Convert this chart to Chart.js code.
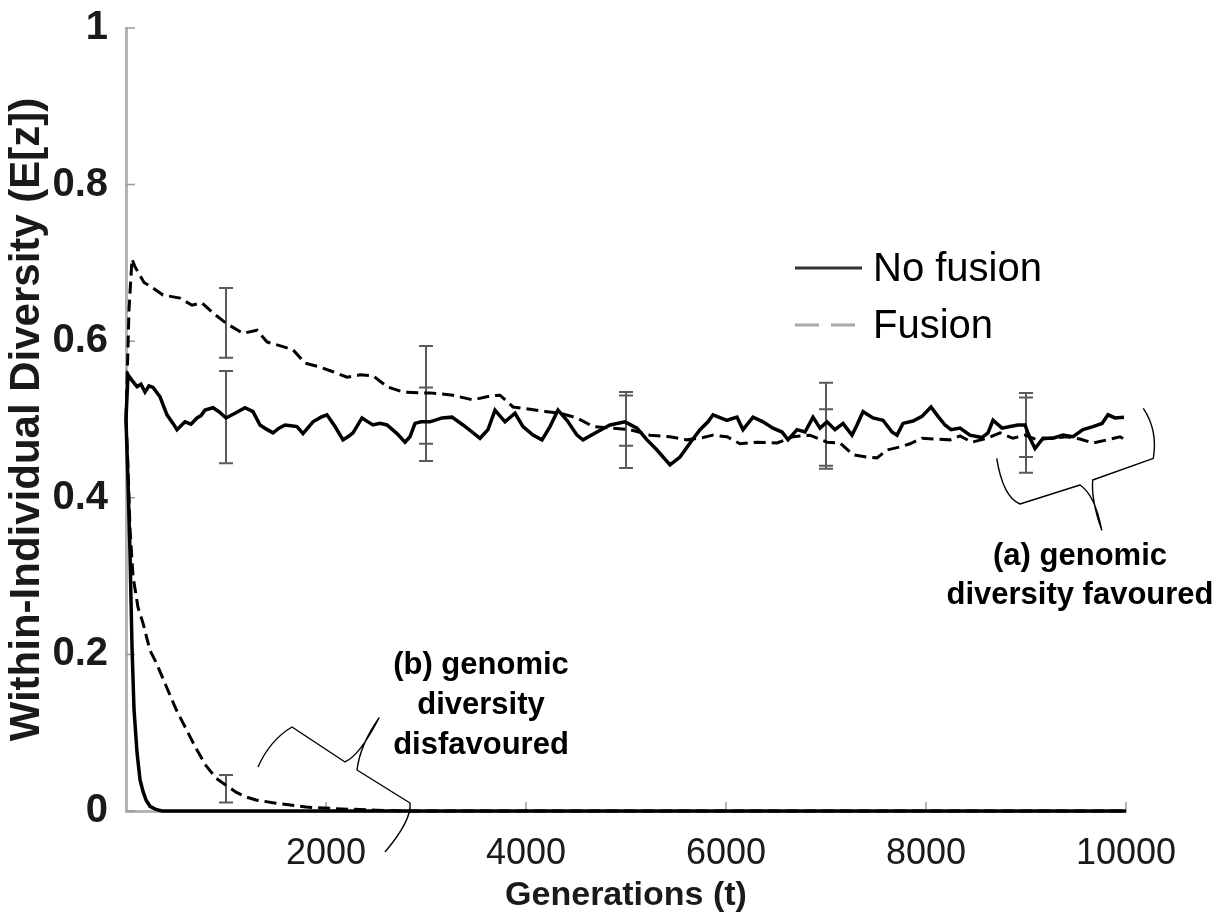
<!DOCTYPE html>
<html>
<head>
<meta charset="utf-8">
<script src="https://cdn.jsdelivr.net/npm/chart.js@4/dist/chart.umd.min.js"></script>
<style>
  html, body { margin: 0; padding: 0; background: #ffffff; }
  #wrap { width: 1224px; height: 920px; }
</style>
</head>
<body>
<div id="wrap"><canvas id="c" width="1224" height="920"></canvas></div>
<script>
// ---- Data: within-individual diversity E[z] over generations t ----

// (a) genomic diversity favoured, no fusion
const noFusionA_t = [0, 10, 20, 60, 110, 150, 190, 230, 270, 340, 410, 470, 510, 550, 590, 650, 710, 750, 790, 870, 930,
  1000, 1090, 1190, 1270, 1340, 1400, 1470, 1530, 1590, 1650, 1710, 1770, 1870, 1950, 2010, 2090, 2170, 2220, 2270, 2360,
  2420, 2470, 2540, 2610, 2710, 2790, 2840, 2890, 2950, 3040, 3160, 3260, 3370, 3450, 3540, 3620, 3690, 3790, 3890, 3970,
  4070, 4160, 4240, 4320, 4410, 4510, 4570, 4710, 4840, 4990, 5110, 5210, 5310, 5440, 5540, 5640, 5740, 5820, 5870, 6010,
  6110, 6170, 6270, 6370, 6470, 6560, 6620, 6710, 6790, 6870, 6940, 7010, 7090, 7170, 7260, 7310, 7370, 7470, 7570, 7660,
  7710, 7770, 7870, 7960, 8050, 8120, 8190, 8250, 8340, 8440, 8560, 8620, 8670, 8760, 8840, 8920, 8990, 9040, 9090, 9170,
  9270, 9370, 9470, 9570, 9670, 9760, 9820, 9890, 9980];
const noFusionA_v = [0.50, 0.53, 0.557, 0.55, 0.542, 0.545, 0.535, 0.543, 0.541, 0.529, 0.506, 0.495, 0.487, 0.492, 0.497, 0.494, 0.502, 0.505, 0.512, 0.515, 0.510,
  0.502, 0.508, 0.515, 0.510, 0.493, 0.488, 0.483, 0.489, 0.493, 0.492, 0.491, 0.482, 0.497, 0.503, 0.506, 0.491, 0.474, 0.478, 0.483, 0.502,
  0.497, 0.493, 0.495, 0.493, 0.482, 0.471, 0.478, 0.495, 0.497, 0.497, 0.502, 0.503, 0.493, 0.485, 0.476, 0.487, 0.512, 0.497, 0.508, 0.491,
  0.480, 0.474, 0.491, 0.512, 0.499, 0.480, 0.474, 0.484, 0.493, 0.497, 0.489, 0.474, 0.461, 0.442, 0.452, 0.470, 0.487, 0.497, 0.506, 0.499,
  0.503, 0.487, 0.503, 0.497, 0.489, 0.484, 0.474, 0.487, 0.484, 0.503, 0.489, 0.497, 0.487, 0.495, 0.480, 0.493, 0.510, 0.502, 0.499, 0.484,
  0.480, 0.495, 0.498, 0.504, 0.516, 0.504, 0.493, 0.487, 0.489, 0.480, 0.477, 0.483, 0.499, 0.489, 0.491, 0.493, 0.493, 0.476, 0.463, 0.476,
  0.476, 0.480, 0.478, 0.487, 0.491, 0.495, 0.506, 0.502, 0.503];

// (a) genomic diversity favoured, fusion
const fusionA_t = [0, 30, 60, 90, 180, 270, 370, 540, 660, 760, 870, 1000, 1170, 1310, 1410, 1570, 1670, 1790, 1940, 2070,
  2210, 2340, 2470, 2610, 2770, 2940, 3040, 3270, 3470, 3640, 3740, 3870, 4040, 4210, 4340, 4510, 4670, 4840, 5040, 5240,
  5440, 5610, 5770, 5870, 6010, 6140, 6310, 6510, 6670, 6840, 7010, 7140, 7270, 7410, 7510, 7610, 7740, 7840, 7960, 8110,
  8240, 8340, 8460, 8610, 8740, 8870, 8990, 9110, 9240, 9410, 9540, 9670, 9810, 9940, 9980];
const fusionA_v = [0.50, 0.64, 0.705, 0.695, 0.675, 0.668, 0.659, 0.655, 0.646, 0.649, 0.636, 0.623, 0.610, 0.614, 0.599, 0.593, 0.589, 0.572, 0.567, 0.561,
  0.554, 0.557, 0.556, 0.542, 0.535, 0.534, 0.534, 0.531, 0.525, 0.530, 0.531, 0.516, 0.513, 0.510, 0.508, 0.502, 0.491, 0.489, 0.487, 0.480,
  0.478, 0.474, 0.477, 0.480, 0.478, 0.469, 0.471, 0.470, 0.478, 0.480, 0.471, 0.470, 0.455, 0.452, 0.451, 0.461, 0.465, 0.469, 0.476, 0.475,
  0.474, 0.479, 0.471, 0.476, 0.483, 0.476, 0.480, 0.474, 0.476, 0.478, 0.475, 0.470, 0.474, 0.478, 0.475];

// (b) genomic diversity disfavoured, no fusion
const noFusionB_t = [0, 20, 40, 60, 80, 110, 140, 170, 200, 240, 300, 360, 10000];
const noFusionB_v = [0.50, 0.42, 0.33, 0.21, 0.13, 0.075, 0.04, 0.025, 0.014, 0.006, 0.002, 0, 0];

// (b) genomic diversity disfavoured, fusion
const fusionB_t = [0, 20, 40, 70, 120, 170, 240, 300, 400, 500, 600, 700, 800, 900, 1000, 1100, 1200, 1300, 1500, 1800, 2100, 2500, 2800, 10000];
const fusionB_v = [0.50, 0.44, 0.36, 0.30, 0.26, 0.24, 0.205, 0.19, 0.16, 0.13, 0.105, 0.08, 0.058, 0.042, 0.033, 0.024, 0.018, 0.014, 0.010, 0.005, 0.003, 0.001, 0, 0];

// Error bars (mean ± spread) sampled every 2000 generations
const errT = [1000, 3000, 5000, 7000, 9000];
const errNoFusionA_mean = [0.503, 0.494, 0.4985, 0.494, 0.493];
const errNoFusionA_half = [0.059, 0.047, 0.032, 0.053, 0.041];
const errFusionA_mean = [0.6235, 0.5315, 0.4865, 0.475, 0.480];
const errFusionA_half = [0.0445, 0.0625, 0.0485, 0.038, 0.048];
const errFusionB_t = [1000];
const errFusionB_mean = [0.0285];
const errFusionB_half = [0.0175];

// Tick values and labels
const xTickValues = [2000, 4000, 6000, 8000, 10000];
const xTickLabels = ['2000', '4000', '6000', '8000', '10000'];
const yTickValues = [0, 0.2, 0.4, 0.6, 0.8, 1];
const yTickLabels = ['0', '0.2', '0.4', '0.6', '0.8', '1'];

const seriesLabels = ['No fusion', 'Fusion'];
const noteA = ['(a) genomic', 'diversity favoured'];
const noteB = ['(b) genomic', 'diversity', 'disfavoured'];

// ---- Helpers ----
const FONT = '"Liberation Sans", Arial, Helvetica, sans-serif';
const zip = (ts, vs) => ts.map((t, i) => ({ x: t, y: vs[i] }));

const solidStyle = { borderColor: '#000000', borderWidth: 3.5, pointRadius: 0, fill: false, tension: 0, clip: 6 };
const dashedStyle = { borderColor: '#000000', borderWidth: 3, borderDash: [12, 6], pointRadius: 0, fill: false, tension: 0, clip: 6 };

// Annotation layout, expressed in data units (generations, diversity)
const annot = {
  braceA: [
    ['M', 8707, 0.4504],
    ['Q', 8770, 0.401, 8940, 0.3921],
    ['L', 9540, 0.4163],
    ['Q', 9690, 0.4036, 9757, 0.3589],
    ['Q', 9650, 0.397, 9667, 0.4227],
    ['L', 10273, 0.4504],
    ['Q', 10320, 0.4866, 10173, 0.5143]
  ],
  braceB: [
    ['M', 1320, 0.0562],
    ['Q', 1440, 0.0907, 1660, 0.1073],
    ['L', 2190, 0.0626],
    ['Q', 2340, 0.0715, 2530, 0.1188],
    ['Q', 2340, 0.0843, 2310, 0.0524],
    ['L', 2840, 0.0102],
    ['Q', 2860, -0.0115, 2590, -0.0524]
  ],
  textA: { t: 9540, v: 0.3257, step: 39 },
  textB: { t: 3550, v: 0.1865, step: 40 },
  legend: { t: 6690, v: 0.6935, step: 57, len: 67, gap: 11 }
};

// Axis ticks pointing into the plot, error bars, braces, notes and legend
const overlay = {
  id: 'overlay',
  beforeDatasetsDraw(chart) {
    const { ctx, scales: { x, y } } = chart;
    ctx.save();
    ctx.strokeStyle = '#5a5a5a';
    ctx.lineWidth = 2;
    const bar = (t, m, h) => {
      const px = x.getPixelForValue(t);
      const top = y.getPixelForValue(m + h);
      const bot = y.getPixelForValue(m - h);
      const cw = 7;
      ctx.beginPath();
      ctx.moveTo(px, top); ctx.lineTo(px, bot);
      ctx.moveTo(px - cw, top); ctx.lineTo(px + cw, top);
      ctx.moveTo(px - cw, bot); ctx.lineTo(px + cw, bot);
      ctx.stroke();
    };
    errT.forEach((t, i) => {
      bar(t, errNoFusionA_mean[i], errNoFusionA_half[i]);
      bar(t, errFusionA_mean[i], errFusionA_half[i]);
    });
    errFusionB_t.forEach((t, i) => bar(t, errFusionB_mean[i], errFusionB_half[i]));

    // inward tick marks
    ctx.strokeStyle = '#9a9a9a';
    ctx.lineWidth = 1.5;
    const left = chart.chartArea.left, bottom = chart.chartArea.bottom;
    ctx.beginPath();
    yTickValues.forEach(v => {
      const py = y.getPixelForValue(v);
      ctx.moveTo(left, py); ctx.lineTo(left + 9, py);
    });
    xTickValues.forEach(t => {
      const px = x.getPixelForValue(t);
      ctx.moveTo(px, bottom); ctx.lineTo(px, bottom - 9);
    });
    ctx.stroke();
    ctx.restore();
  },
  afterDraw(chart) {
    const { ctx, scales: { x, y } } = chart;
    const X = t => x.getPixelForValue(t);
    const Y = v => y.getPixelForValue(v);
    ctx.save();

    // braces
    ctx.strokeStyle = '#000000';
    ctx.lineWidth = 1.4;
    ctx.lineJoin = 'round';
    [annot.braceA, annot.braceB].forEach(path => {
      ctx.beginPath();
      path.forEach(seg => {
        if (seg[0] === 'M') ctx.moveTo(X(seg[1]), Y(seg[2]));
        else if (seg[0] === 'L') ctx.lineTo(X(seg[1]), Y(seg[2]));
        else ctx.quadraticCurveTo(X(seg[1]), Y(seg[2]), X(seg[3]), Y(seg[4]));
      });
      ctx.stroke();
    });

    // notes
    ctx.fillStyle = '#000000';
    ctx.font = 'bold 31px ' + FONT;
    ctx.textAlign = 'center';
    ctx.textBaseline = 'middle';
    noteA.forEach((s, i) => ctx.fillText(s, X(annot.textA.t), Y(annot.textA.v) + i * annot.textA.step));
    noteB.forEach((s, i) => ctx.fillText(s, X(annot.textB.t), Y(annot.textB.v) + i * annot.textB.step));

    // legend
    const lg = annot.legend;
    const lx = X(lg.t), ly = Y(lg.v);
    ctx.lineWidth = 3;
    ctx.strokeStyle = '#333333';
    ctx.setLineDash([]);
    ctx.beginPath(); ctx.moveTo(lx, ly); ctx.lineTo(lx + lg.len, ly); ctx.stroke();
    ctx.strokeStyle = '#a8a8a8';
    ctx.setLineDash([24, 12]);
    ctx.beginPath(); ctx.moveTo(lx, ly + lg.step); ctx.lineTo(lx + lg.len, ly + lg.step); ctx.stroke();
    ctx.setLineDash([]);
    ctx.font = '40px ' + FONT;
    ctx.textAlign = 'left';
    ctx.fillStyle = '#000000';
    seriesLabels.forEach((s, i) => ctx.fillText(s, lx + lg.len + lg.gap, ly + i * lg.step + 2));
    ctx.restore();
  }
};

new Chart(document.getElementById('c'), {
  type: 'line',
  data: {
    datasets: [
      Object.assign({ label: seriesLabels[1], data: zip(fusionA_t, fusionA_v) }, dashedStyle),
      Object.assign({ label: seriesLabels[1], data: zip(fusionB_t, fusionB_v) }, dashedStyle),
      Object.assign({ label: seriesLabels[0], data: zip(noFusionA_t, noFusionA_v) }, solidStyle),
      Object.assign({ label: seriesLabels[0], data: zip(noFusionB_t, noFusionB_v) }, solidStyle)
    ]
  },
  options: {
    responsive: false,
    animation: false,
    parsing: false,
    layout: { padding: { top: 28, right: 98, left: 0, bottom: 0 } },
    plugins: { legend: { display: false }, tooltip: { enabled: false } },
    scales: {
      x: {
        type: 'linear', min: 0, max: 10000,
        afterBuildTicks: s => { s.ticks = xTickValues.map(v => ({ value: v })); },
        afterFit: s => { s.height = 109; s.paddingLeft = 0; s.paddingRight = 0; },
        ticks: {
          callback: (v) => xTickLabels[xTickValues.indexOf(v)],
          font: { family: FONT, size: 36 }, color: '#1a1a1a', padding: 21, maxRotation: 0
        },
        grid: { display: false, drawTicks: false },
        border: { display: true, color: '#b4b4b4', width: 3 },
        title: { display: true, text: 'Generations (t)', color: '#1a1a1a',
          font: { family: FONT, size: 34, weight: 'bold' }, padding: { top: 0, bottom: 4 } }
      },
      y: {
        type: 'linear', min: 0, max: 1,
        afterBuildTicks: s => { s.ticks = yTickValues.map(v => ({ value: v })); },
        afterFit: s => { s.width = 126; s.paddingTop = 0; s.paddingBottom = 0; },
        ticks: {
          callback: (v) => yTickLabels[yTickValues.indexOf(v)],
          font: { family: FONT, size: 40, weight: 'bold' }, color: '#1a1a1a', padding: 18
        },
        grid: { display: false, drawTicks: false },
        border: { display: true, color: '#b4b4b4', width: 3 },
        title: { display: true, text: 'Within-Individual Diversity (E[z])', color: '#1a1a1a',
          font: { family: FONT, size: 42, weight: 'bold' }, padding: { top: 2, bottom: 0 } }
      }
    }
  },
  plugins: [overlay]
});
</script>
</body>
</html>
